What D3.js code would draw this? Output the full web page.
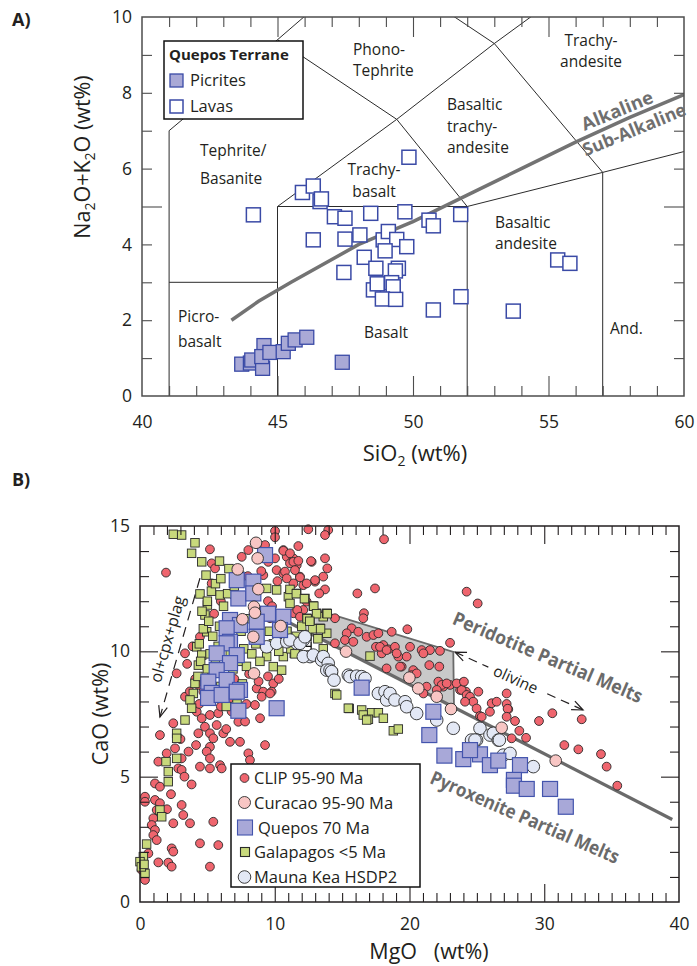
<!DOCTYPE html>
<html><head><meta charset="utf-8">
<script src="https://cdn.jsdelivr.net/npm/d3@7"></script>
<style>
body{margin:0;background:#fff}
svg{display:block}
text{font-family:"Open Sans",sans-serif;fill:#231f20}
</style>
</head><body>
<svg id="c" width="697" height="966"></svg>
<script>
// ---------------- Panel A data (SiO2, Na2O+K2O) ----------------
const picrites = [[43.68,0.84],[44.0,0.87],[44.05,0.95],[44.45,0.73],[44.5,1.33],[44.42,1.04],[44.72,1.15],[45.21,1.17],[45.4,1.39],[45.65,1.48],[46.08,1.55],[47.39,0.89]];
const lavas = [[44.11,4.78],[45.92,5.37],[46.32,5.54],[46.57,5.13],[46.62,5.2],[47.1,4.73],[47.49,4.69],[48.44,4.82],[49.7,4.86],[49.85,6.3],[46.32,4.12],[47.49,4.14],[48.04,4.25],[48.9,4.12],[49.09,4.34],[49.4,4.13],[49.77,3.94],[48.97,3.83],[48.2,3.66],[48.63,3.37],[49.46,3.37],[49.35,3.3],[47.45,3.26],[48.54,2.8],[48.68,2.96],[49.21,2.99],[49.27,2.88],[48.87,2.56],[49.36,2.55],[50.59,4.64],[50.75,4.49],[51.76,4.79],[51.77,2.62],[50.75,2.27],[53.7,2.24],[55.34,3.59],[55.79,3.5]];
const aXTickLabels = [40,45,50,55,60];
const aYTickLabels = [0,2,4,6,8,10];
// TAS field boundaries (data units)
const tasLines = [
  [[41,0],[41,7],[45,9.4],[48.4,11.5]],
  [[41,3],[45,3]],
  [[45,0],[45,5],[52,5],[52,0]],
  [[45,5],[49.4,7.3],[52,5]],
  [[45,9.4],[49.4,7.3],[53,9.3],[57.6,11.7]],
  [[48.4,11.5],[53,9.3],[57,5.9],[57,0]],
  [[52,5],[57,5.9],[63,7]]
];
const alkalineDivide = [[43.3,2.0],[44.3,2.5],[45.5,3.0],[48,4.0],[50,4.6],[52,5.3],[54,6.0],[56,6.7],[58,7.35],[60,7.95]];

// ---------------- Panel B data (MgO, CaO) ----------------
const clip = [[10.02,14.8],[10.02,14.55],[1.93,13.14],[5.19,14.07],[5.32,13.51],[8.04,14.04],[7.55,13.77],[9.28,14.24],[10.64,14.04],[9.52,13.57],[10.02,13.71],[10.89,13.77],[11.38,13.71],[11.13,13.51],[11.63,13.44],[12.74,13.57],[10.14,13.24],[9.15,13.04],[10.64,13.11],[11.87,12.98],[11.38,12.71],[12.12,12.64],[12.99,12.78],[13.6,12.98],[13.73,13.71],[11.13,12.38],[12.37,11.98],[12.12,11.65],[11.38,11.52],[10.14,11.45],[9.65,11.32],
[2.72,9.12],[3.34,9.92],[4.45,10.58],[5.32,12.71],[5.57,13.31],
[5.94,8.59],[7.18,8.66],[7.42,8.32],[8.66,8.52],[9.15,8.39],[9.89,8.72],[9.77,8.39],[4.33,8.66],[4.7,8.39],[5.32,9.19],[3.34,8.19],
[12.49,14.87],[13.97,14.84],[13.73,14.64],[18.11,14.47],[11.75,14.2],[10.64,14.01],[11.13,13.91],[11.38,13.57],[11.75,13.61],[12.69,13.6],[13.9,13.31],[10.76,13.18],[11.5,13.24],[10.89,12.91],[11.87,12.95],[12.99,12.84],[12.37,12.71],[13.73,12.47],[13.3,12.31],[16.13,12.31],[17.44,12.51],[11.67,11.65],[11.87,11.38],[14.47,11.32],[16.62,11.52],[16.57,11.32],[19.84,10.88],[18.68,10.78],[15.71,10.92],[15.34,10.72],[16.2,10.78],[15.21,10.45],[15.83,10.38],[16.82,10.58],[17.32,10.65],[17.69,10.72],[14.47,10.32],[17.51,10.18],[18.06,10.25],[18.43,10.08],[18.92,10.18],[17.94,9.92],[19.17,9.79],[20.04,10.18],[20.9,10.05],[21.52,10.05],[22.26,10.02],[23.01,10.34],[19.42,9.39],[20.28,9.25],[21.47,9.45],[22.21,9.39],[18.3,9.32],[21.03,9.92],[20.16,9.05],[22.14,8.79],[22.51,8.59],[23.01,8.66],[23.95,8.75],[23.75,8.46],[24.19,8.39],[25.11,8.39],[24.24,12.38],[25.06,11.91],
[17.81,10.18],[18.3,10.05],[19.05,9.92],[19.79,9.79],[19.3,9.39],[20.53,9.12],[21.27,8.59],[22.39,8.66],[22.76,8.72],[23.5,8.72],[23.87,8.46],[24.24,8.26],[24.49,8.19],[24.73,7.99],[24.98,7.72],[25.23,7.42],[25.97,7.59],[26.1,7.93],[26.47,7.99],[27.21,8.32],[27.21,7.9],[27.33,7.69],[27.83,7.22],[28.15,6.83],[28.65,6.55],[29.61,7.22],[30.6,7.53],[21.03,8.32],[22.02,8.46],
[24.04,8.79],[24.12,7.99],[25.36,7.39],[27.28,7.71],[27.21,7.39],[27.58,6.53],[32.78,7.29],[31.49,6.26],[32.53,6.09],[34.21,5.9],[34.63,5.4],[35.42,4.64],
[5.32,8.26],[6.43,8.32],[8.53,7.86],[9.03,8.19],[9.65,8.32],[8.91,7.33],[7.3,7.19],[4.21,7.59],[4.58,7.33],[5.19,7.46],[5.81,7.53],[5.69,7.06],[4.82,6.99],[4.33,6.73],[5.19,6.73],[6.18,6.73],[5.44,6.53],[6.68,6.39],[7.42,6.39],[4.16,6.26],[5.19,6.19],[4.95,6.0],[5.19,5.73],[4.45,5.4],[5.19,5.33],[5.94,5.46],[6.06,5.33],[8.04,5.93],[8.16,5.66],[9.28,6.26],[2.47,7.13],[1.48,6.66],[2.6,6.13],[1.98,5.93],[1.36,5.6],[3.09,5.73],[2.84,5.33],[3.09,5.27],[3.83,4.69],[1.11,4.73],[1.48,4.6],[0.37,4.2],[0.37,4.0],[1.11,4.07],[1.48,3.94],[3.09,3.87],[1.24,3.67],[3.21,3.47],[0.99,3.34],[2.47,3.14],[3.71,3.14],[5.44,3.2],[0.87,3.07],[1.11,2.87],[0.99,2.67],[1.24,2.47],[2.35,2.14],[2.47,2.01],[4.45,2.34],[5.81,2.27],[0.62,1.94],[1.36,1.58],[2.1,1.57],[2.35,1.41],[5.19,1.41],[0.37,0.88],[0.12,1.28],
[5.5,11.5],[6.0,12.0],[7.0,12.2],[8.0,13.0],[8.5,12.5],[9.5,12.0],[9.8,11.8],[10.2,12.8],[9.0,13.2],[6.2,9.4],[7.0,8.9],[8.1,9.1],[9.5,9.0],[10.3,8.9],[8.8,8.8],[6.6,8.1],[7.9,7.9],[3.5,9.5],[3.9,10.2],[4.1,8.9],[3.7,8.4],[4.4,7.9],[6.0,7.8],[6.8,7.6],[7.8,7.2],[6.4,6.9],[3.0,6.5],[3.6,6.0],[3.3,5.0],[2.3,4.3],[2.0,3.7]];
const galapagos = [[2.47,14.67],[3.09,14.64],[4.08,14.33],[3.83,13.91],[4.58,13.57],[4.9,13.04],[4.45,12.29],[5.94,12.25],[5.0,11.85],[4.82,11.45],[4.95,10.78],[4.21,10.18],[4.58,9.85],[4.33,9.45],[4.08,8.72],[3.96,8.32],
[9.4,12.51],[10.14,12.45],[11.01,12.18],[11.13,11.91],[12.37,11.32],[13.11,11.52],[10.89,10.78],[9.4,9.79],[10.64,9.79],[9.89,9.39],[10.51,9.25],[11.13,12.47],[11.63,12.31],[12.24,12.11],[12.86,11.81],[13.6,11.38],[13.86,11.52],[13.86,10.72],[12.62,11.25],[13.36,10.92],[17.07,9.81],[14.47,8.32],[14.35,9.12],[11.45,9.92],[12.12,9.85],
[15.53,7.72],[16.45,7.66],[16.57,7.46],[17.19,7.55],[17.69,7.55],[16.95,7.29],[18.06,7.33],[18.8,6.83],[19.17,6.9],[14.6,8.26],[16.82,7.26],[15.46,7.73],
[3.71,8.06],[3.83,7.73],[3.34,7.26],[2.72,6.73],[2.72,6.53],[2.72,5.73],[1.93,5.6],[2.1,5.2],[2.1,4.8],[1.48,3.67],[1.61,3.4],[0.49,2.31],[0.25,1.81],[0.0,1.61],[0.37,1.14],[0.1,1.4],[0.3,1.5],
[4.3,9.0],[4.5,9.6],[4.4,10.3],[4.7,10.9],[4.6,11.6],[5.0,12.0],[5.3,12.4],[5.6,12.7],[5.1,11.2],[5.4,10.6],[5.2,9.9],[5.0,9.3],[4.8,8.8],[5.6,9.6],[5.8,10.2],[5.9,11.0],[6.2,11.8],[6.5,12.3],[6.0,12.9],[6.6,13.3],[5.9,13.6],[6.3,10.5],[6.7,9.9],[6.9,9.3],[7.3,9.6],[7.7,10.1],[7.9,9.4],[8.3,9.9],[8.6,10.3],[8.9,9.6],[7.5,10.8],[8.0,11.3],[8.8,11.0],[9.1,11.4],[9.6,10.8],[9.9,10.3],[10.3,10.0],[10.8,10.4],[11.2,10.1],[11.6,10.6],[12.0,11.0],[12.4,10.6],[12.8,10.9],[13.2,10.5],[13.6,10.1],[11.6,12.3],[12.2,12.1],[12.4,11.3],[12.9,11.8],[13.1,11.5],[13.9,11.5],[13.4,10.9],[12.6,11.2],[10.9,10.8],[11.5,9.9],[6.0,8.6],[6.8,8.4],[7.6,8.7],[5.5,8.2],[7.0,12.6],[7.4,13.0],[8.0,12.2],[8.4,12.6],[6.4,7.8],[7.2,7.9]];
const maunaKea = [[9.4,10.18],[10.14,10.32],[10.89,10.38],[11.63,10.32],[12.12,10.45],[11.13,10.45],[11.87,10.32],[12.24,10.58],[12.62,9.79],[12.12,9.79],[12.86,9.85],[13.48,9.65],[13.6,9.79],[13.97,9.52],[13.86,9.25],[14.1,9.25],[14.22,9.19],[14.4,8.85],[15.46,9.05],[15.58,8.99],[16.08,9.01],[16.45,8.99],[16.7,8.92],[17.69,8.32],[18.18,8.39],[18.3,8.06],[18.55,8.32],[18.92,8.06],[19.67,7.99],[19.79,7.79],[20.53,7.52],[22.02,7.26],[23.25,6.93],[25.23,6.93],[24.98,6.46],[24.6,6.46],[24.86,6.46],[25.97,6.66],[26.22,6.73],[26.59,6.46],[26.67,6.46],[26.96,5.86],[27.46,5.93],[29.19,5.4]];
const quepos = [[9.28,13.84],[7.18,12.84],[8.41,12.78],[7.3,12.11],[8.41,12.31],[10.64,11.38],[9.5,11.5],[6.68,11.25],[7.42,11.05],[8.66,11.18],[6.43,10.92],[10.39,10.85],[8.66,10.58],[6.68,10.38],[6.43,10.32],[5.69,9.92],[7.18,9.85],[6.68,9.53],[5.69,9.25],[5.07,8.79],[6.43,8.86],[5.32,8.34],[7.42,8.46],[5.05,8.14],[6.06,8.26],[7.18,8.39],[7.3,7.63],[10.14,7.73],[16.45,8.55],[21.77,7.59],[21.47,6.66],[22.59,5.84],[23.99,5.7],[25.23,5.89],[24.49,6.06],[25.97,5.46],[26.59,5.64],[28.2,5.46],[27.75,4.87],[27.75,4.64],[28.7,4.51],[30.43,4.51],[31.6,3.8]];
const curacao = [[8.61,14.33],[8.73,13.71],[7.25,13.27],[8.78,12.48],[8.46,11.78],[8.53,11.54],[7.6,11.28],[10.44,11.01],[8.41,10.58],[8.46,9.12],[15.29,9.99],[19.99,8.95],[20.65,8.52],[22.02,8.19],[23.08,7.7],[26.84,6.95],[30.85,5.64]];
const bXTickLabels = [0,10,20,30,40];
const bYTickLabels = [0,5,10,15];
const peridotiteField = [[13.0,11.67],[23.25,9.98],[23.3,7.8],[13.0,10.61]];
const pyroxeniteLine = [[8.78,11.78],[39.5,3.29]];
const fracArrow = [[4.45,12.92],[1.48,7.38]];
const olivineArrow = [[23.38,9.97],[32.88,7.66]];

const svg = d3.select("#c");
const FONT = '"Open Sans",sans-serif';

function frame(g, x, y, xMinor, xMajor, yMinor, yMajor, minLen, majLen, col, w) {
  const [x0,x1] = x.range(), [y0,y1] = y.range();
  const add = (fn, sc, vals, len, tr) => g.append("g").attr("transform", tr)
      .call(fn(sc).tickValues(vals).tickSize(-len).tickSizeOuter(0).tickFormat(""))
      .call(s => { s.select(".domain").remove(); s.selectAll("line").attr("stroke", col).attr("stroke-width", w); });
  [[xMinor,minLen],[xMajor,majLen]].forEach(([v,l]) => {
    add(d3.axisBottom, x, v, l, `translate(0,${y0})`);
    add(d3.axisTop, x, v, l, `translate(0,${y1})`);
  });
  [[yMinor,minLen],[yMajor,majLen]].forEach(([v,l]) => {
    add(d3.axisLeft, y, v, l, `translate(${x0},0)`);
    add(d3.axisRight, y, v, l, `translate(${x1},0)`);
  });
  g.append("rect").attr("x", x0).attr("y", y1).attr("width", x1 - x0).attr("height", y0 - y1)
    .attr("fill", "none").attr("stroke", col).attr("stroke-width", w + 0.4);
}
function labels(g, x, y, xl, yl, px, py) {
  const [x0] = x.range(), [y0] = y.range();
  const st = s => { s.select(".domain").remove(); s.attr("font-family", FONT).attr("font-size", 17.5); s.selectAll("text").attr("fill", "#231f20"); };
  g.append("g").attr("transform", `translate(0,${y0})`)
    .call(d3.axisBottom(x).tickValues(xl).tickSize(0).tickPadding(px).tickFormat(d3.format("d"))).call(st);
  g.append("g").attr("transform", `translate(${x0},0)`)
    .call(d3.axisLeft(y).tickValues(yl).tickSize(0).tickPadding(py).tickFormat(d3.format("d"))).call(st);
}
function arrowHead(g, tip, from, len, ang) {
  const dx = from[0]-tip[0], dy = from[1]-tip[1], L = Math.hypot(dx, dy), ux = dx/L, uy = dy/L;
  const r = a => [tip[0] + len*(ux*Math.cos(a) - uy*Math.sin(a)), tip[1] + len*(ux*Math.sin(a) + uy*Math.cos(a))];
  const p1 = r(ang), p2 = r(-ang);
  g.append("path").attr("d", `M${p1}L${tip}L${p2}`).attr("fill", "none").attr("stroke", "#231f20").attr("stroke-width", 1.2);
}

// ================= PANEL A =================
const xA = d3.scaleLinear().domain([40,60]).range([142,684]);
const yA = d3.scaleLinear().domain([0,10]).range([396,17]);
const gA = svg.append("g");
svg.append("defs").append("clipPath").attr("id", "clipA").append("rect")
  .attr("x", 142).attr("y", 17).attr("width", 542).attr("height", 379);
const lineA = d3.line().x(d => xA(d[0])).y(d => yA(d[1]));
const fieldG = gA.append("g").attr("clip-path", "url(#clipA)");
fieldG.selectAll("path.f").data(tasLines).join("path").attr("class", "f")
  .attr("d", lineA).attr("fill", "none").attr("stroke", "#2b2b2b").attr("stroke-width", 1);
fieldG.append("path").attr("d", lineA(alkalineDivide)).attr("fill", "none")
  .attr("stroke", "#737373").attr("stroke-width", 3.5);

frame(gA, xA, yA, d3.range(41,60).filter(v => v % 5), [45,50,55], d3.range(1,10).filter(v => v !== 5), [5], 10, 20, "#4d4d4d", 1.1);
labels(gA, xA, yA, aXTickLabels, aYTickLabels, 20, 10);

// field names: [lines, x, first baseline, line gap, anchor]
const fl = [
  [["Phono-","Tephrite"],353,55,21.3,"start"],
  [["Tephrite/","Basanite"],200,156,28,"start"],
  [["Trachy-","basalt"],374,175.4,21.3,"middle"],
  [["Basaltic","trachy-","andesite"],447,110.3,21.3,"start"],
  [["Trachy-","andesite"],591,45.9,21.3,"middle"],
  [["Basaltic","andesite"],495,227.9,21.3,"start"],
  [["And."],610,334,0,"start"],
  [["Picro-","basalt"],178,322,25,"start"],
  [["Basalt"],364,338,0,"start"]
];
gA.selectAll("text.fl").data(fl).join("text").attr("class", "fl")
  .attr("y", d => d[2]).attr("text-anchor", d => d[4]).attr("font-size", 15.5)
  .each(function(d) {
    d3.select(this).selectAll("tspan").data(d[0]).join("tspan")
      .attr("x", d[1]).attr("dy", (t, i) => i === 0 ? 0 : d[3]).text(t => t);
  });

gA.append("text").attr("transform", "translate(617,110) rotate(-22.5)").attr("text-anchor", "middle")
  .attr("dominant-baseline", "central").attr("font-size", 18).attr("font-weight", 700)
  .attr("textLength", 76).attr("lengthAdjust", "spacingAndGlyphs")
  .style("fill", "#6f6f6f").text("Alkaline");
gA.append("text").attr("transform", "translate(634,129) rotate(-22.5)").attr("text-anchor", "middle")
  .attr("dominant-baseline", "central").attr("font-size", 18).attr("font-weight", 700)
  .attr("textLength", 110).attr("lengthAdjust", "spacingAndGlyphs")
  .style("fill", "#6f6f6f").text("Sub-Alkaline");

// markers
gA.selectAll("rect.lava").data(lavas).join("rect").attr("class", "lava")
  .attr("x", d => xA(d[0]) - 7).attr("y", d => yA(d[1]) - 7).attr("width", 14).attr("height", 14)
  .attr("fill", "#fff").attr("stroke", "#3a4aa6").attr("stroke-width", 1.5);
gA.selectAll("rect.pic").data(picrites).join("rect").attr("class", "pic")
  .attr("x", d => xA(d[0]) - 7).attr("y", d => yA(d[1]) - 7).attr("width", 14).attr("height", 14)
  .attr("fill", "#a9a9d6").attr("stroke", "#3a4aa6").attr("stroke-width", 1.3);

// legend A
const lgA = gA.append("g");
lgA.append("rect").attr("x", 164).attr("y", 41).attr("width", 139).attr("height", 78)
  .attr("fill", "#fff").attr("stroke", "#111").attr("stroke-width", 1.5);
lgA.append("text").attr("x", 169).attr("y", 60).attr("font-size", 15).attr("font-weight", 700).text("Quepos Terrane");
lgA.append("rect").attr("x", 170).attr("y", 74).attr("width", 13).attr("height", 13)
  .attr("fill", "#a9a9d6").attr("stroke", "#3a4aa6").attr("stroke-width", 1.3);
lgA.append("text").attr("x", 190).attr("y", 86).attr("font-size", 16.5).text("Picrites");
lgA.append("rect").attr("x", 170).attr("y", 100).attr("width", 13).attr("height", 13)
  .attr("fill", "#fff").attr("stroke", "#3a4aa6").attr("stroke-width", 1.5);
lgA.append("text").attr("x", 190).attr("y", 112).attr("font-size", 16.5).text("Lavas");

// titles A
gA.append("text").attr("x", 12).attr("y", 26).attr("font-size", 18).attr("font-weight", 700).text("A)");
const ytA = gA.append("text").attr("transform", "translate(90,157) rotate(-90)").attr("text-anchor", "middle").attr("font-size", 21.5);
ytA.append("tspan").text("Na");
ytA.append("tspan").attr("font-size", 14).attr("dy", 5).text("2");
ytA.append("tspan").attr("dy", -5).text("O+K");
ytA.append("tspan").attr("font-size", 14).attr("dy", 5).text("2");
ytA.append("tspan").attr("dy", -5).text("O (wt%)");
const xtA = gA.append("text").attr("x", 415).attr("y", 461).attr("text-anchor", "middle").attr("font-size", 22);
xtA.append("tspan").text("SiO");
xtA.append("tspan").attr("font-size", 14).attr("dy", 5).text("2");
xtA.append("tspan").attr("dy", -5).text(" (wt%)");

// ================= PANEL B =================
const xB = d3.scaleLinear().domain([0,40]).range([140,679]);
const yB = d3.scaleLinear().domain([0,15]).range([902,526]);
const gB = svg.append("g");
const lineB = d3.line().x(d => xB(d[0])).y(d => yB(d[1]));

gB.append("path").attr("d", lineB(peridotiteField) + "Z").attr("fill", "#c9c9c9").attr("stroke", "none");
gB.append("path").attr("d", lineB(peridotiteField.slice(0,3))).attr("fill", "none")
  .attr("stroke", "#6a6a6a").attr("stroke-width", 1.8);
gB.append("path").attr("d", lineB(pyroxeniteLine)).attr("fill", "none")
  .attr("stroke", "#6a6a6a").attr("stroke-width", 3.2);

// small error bar mark
gB.append("path").attr("d", `M${xB(12.7)},${yB(10.4)}V${yB(9.8)}M${xB(12.3)},${yB(10.2)}H${xB(12.7)}`)
  .attr("stroke", "#111").attr("stroke-width", 1.3).attr("fill", "none");

// annotations arrows
const fa = fracArrow.map(d => [xB(d[0]), yB(d[1])]);
gB.append("path").attr("d", `M${fa[0]}L${fa[1]}`).attr("stroke", "#231f20").attr("stroke-width", 1.2)
  .attr("stroke-dasharray", "10,7").attr("fill", "none");
arrowHead(gB, fa[1], fa[0], 12, 0.38);
const oa = olivineArrow.map(d => [xB(d[0]), yB(d[1])]);
const lerp = (a, b, t) => [a[0] + (b[0]-a[0])*t, a[1] + (b[1]-a[1])*t];
gB.append("path").attr("d", `M${oa[0]}L${lerp(oa[0],oa[1],0.26)}M${lerp(oa[0],oa[1],0.72)}L${oa[1]}`)
  .attr("stroke", "#231f20").attr("stroke-width", 1.2).attr("stroke-dasharray", "9,6").attr("fill", "none");
arrowHead(gB, oa[0], oa[1], 12, 0.4);
arrowHead(gB, oa[1], oa[0], 12, 0.4);
gB.append("text").attr("transform", "translate(516,679) rotate(24.4)").attr("text-anchor", "middle")
  .attr("dominant-baseline", "central").attr("font-size", 15.5).text("olivine");
gB.append("text").attr("transform", "translate(167,639) rotate(-74)").attr("text-anchor", "middle")
  .attr("dominant-baseline", "central").attr("font-size", 16).text("ol+cpx+plag");

gB.append("text").attr("transform", "translate(548,657) rotate(23)").attr("text-anchor", "middle")
  .attr("dominant-baseline", "central").attr("font-size", 19).attr("font-weight", 700)
  .attr("textLength", 204).attr("lengthAdjust", "spacingAndGlyphs")
  .style("fill", "#6a6a6a").text("Peridotite Partial Melts");
gB.append("text").attr("transform", "translate(525,817) rotate(23.5)").attr("text-anchor", "middle")
  .attr("dominant-baseline", "central").attr("font-size", 19).attr("font-weight", 700)
  .attr("textLength", 204).attr("lengthAdjust", "spacingAndGlyphs")
  .style("fill", "#6a6a6a").text("Pyroxenite Partial Melts");

// data
const dot = (cls, data, r, fill) => gB.selectAll("circle." + cls).data(data).join("circle").attr("class", cls)
  .attr("cx", d => xB(d[0])).attr("cy", d => yB(d[1])).attr("r", r)
  .attr("fill", fill).attr("stroke", "#2a2a2a").attr("stroke-width", 0.9);
const sq = (cls, data, s, fill, stroke, sw) => gB.selectAll("rect." + cls).data(data).join("rect").attr("class", cls)
  .attr("x", d => xB(d[0]) - s/2).attr("y", d => yB(d[1]) - s/2).attr("width", s).attr("height", s)
  .attr("fill", fill).attr("stroke", stroke).attr("stroke-width", sw);
dot("clip", clip, 4.4, "#ef656e");
sq("gal", galapagos, 8.5, "#c8d97c", "#2a2a2a", 0.9);
dot("mk", maunaKea, 6.3, "#e3e8f5");
sq("qp", quepos, 15, "#a8a8d8", "#4354ad", 1.2);
dot("cur", curacao, 5.8, "#f8c6c4");

frame(gB, xB, yB, d3.range(1,40).filter(v => v % 10), [10,20,30], d3.range(1,15).filter(v => v % 5), [5,10], 9, 18, "#231f20", 1.1);
labels(gB, xB, yB, bXTickLabels, bYTickLabels, 16, 10);

// legend B
const lgB = gB.append("g");
lgB.append("rect").attr("x", 231).attr("y", 764).attr("width", 189).attr("height", 123)
  .attr("fill", "#fff").attr("stroke", "#111").attr("stroke-width", 1.5);
const lgItems = [
  ["CLIP 95-90 Ma", 778, "c", 4.4, "#ef656e", "#2a2a2a", 254],
  ["Curacao 95-90 Ma", 802.5, "c", 6, "#f8c6c4", "#2a2a2a", 254],
  ["Quepos 70 Ma", 827.5, "s", 15, "#a8a8d8", "#4354ad", 258],
  ["Galapagos <5 Ma", 852, "s", 9, "#c8d97c", "#2a2a2a", 254],
  ["Mauna Kea HSDP2", 877, "c", 6.3, "#e3e8f5", "#2a2a2a", 254]
];
lgItems.forEach(([t, yy, type, s, f, st, tx]) => {
  if (type === "c") lgB.append("circle").attr("cx", 244.5).attr("cy", yy).attr("r", s).attr("fill", f).attr("stroke", st).attr("stroke-width", 0.9);
  else lgB.append("rect").attr("x", 245 - s/2).attr("y", yy - s/2).attr("width", s).attr("height", s).attr("fill", f).attr("stroke", st).attr("stroke-width", 1.1);
  lgB.append("text").attr("x", tx).attr("y", yy + 6).attr("font-size", 16.5).text(t);
});

// titles B
gB.append("text").attr("x", 12).attr("y", 486).attr("font-size", 18).attr("font-weight", 700).text("B)");
gB.append("text").attr("transform", "translate(108,714) rotate(-90)").attr("text-anchor", "middle")
  .attr("font-size", 21.5).text("CaO (wt%)");
gB.append("text").attr("x", 429).attr("y", 959).attr("text-anchor", "middle").attr("font-size", 21.5)
  .style("white-space", "pre").text("MgO   (wt%)");
</script>
</body></html>
